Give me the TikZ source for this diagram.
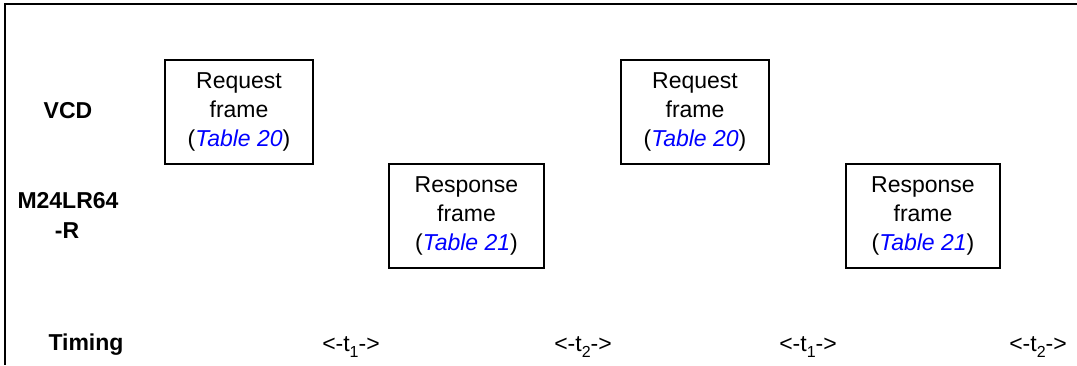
\documentclass[tikz,border=0pt]{standalone}
\usepackage{fontspec}
\setmainfont{Liberation Sans}
\definecolor{linkblue}{RGB}{0,0,255}
\newcommand\tref[1]{(\textcolor{linkblue}{\textit{#1}})}
\newcommand\lowsub[1]{\raisebox{-6bp}{\fontsize{16bp}{16bp}\selectfont #1}}
\begin{document}
\begin{tikzpicture}[x=1bp,y=-1bp,
  every node/.style={inner sep=0pt,outer sep=0pt,font=\fontsize{23bp}{29bp}\selectfont},
  frame/.style={draw,line width=2bp,minimum height=104bp,align=center},
  lane/.style={font=\fontsize{23bp}{29bp}\selectfont\bfseries,anchor=base},
  tlabel/.style={anchor=base},
  border/.style={line width=2.2bp}]
\useasboundingbox (0,0) rectangle (1077,365);
\coordinate (tl) at (5,4);
\coordinate (tr) at (1077,4);
\coordinate (bl) at (5,365);
\draw[border] (tr) -- (tl) -- (bl);
\node[lane] (vcd) at (68,118) {VCD};
\node[lane] (m24a) at (68,208) {M24LR64};
\node[lane] (m24b) at (67,238) {-R};
\node[lane] (timing) at (86,350) {Timing};
\node[frame,minimum width=148bp] (req1) at (239,112) {Request\\frame\\\tref{Table 20}};
\node[frame,minimum width=155bp] (resp1) at (466.5,216) {Response\\frame\\\tref{Table 21}};
\node[frame,minimum width=148bp] (req2) at (695,112) {Request\\frame\\\tref{Table 20}};
\node[frame,minimum width=154bp] (resp2) at (923,216) {Response\\frame\\\tref{Table 21}};
\node[tlabel] (ta) at (351,351) {<-t\lowsub{1}->};
\node[tlabel] (tb) at (583,351) {<-t\lowsub{2}->};
\node[tlabel] (tc) at (808,351) {<-t\lowsub{1}->};
\node[tlabel] (td) at (1038,351) {<-t\lowsub{2}->};
\end{tikzpicture}
\end{document}
